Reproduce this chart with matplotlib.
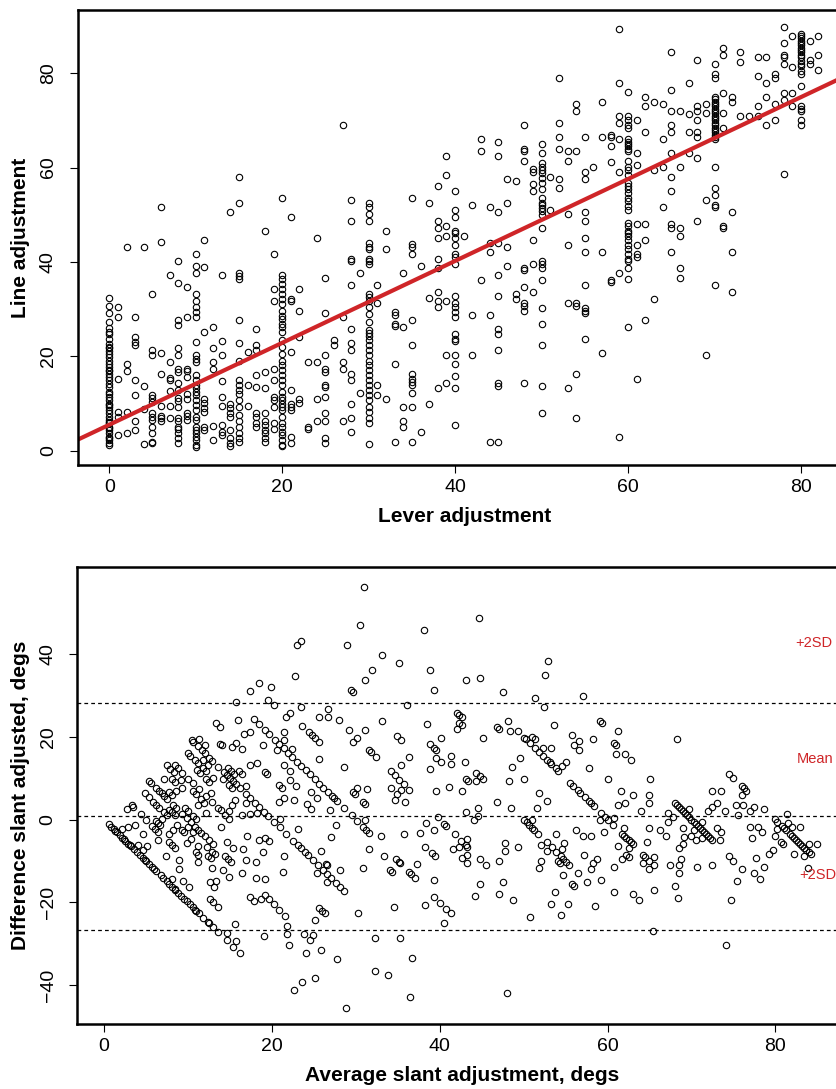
import numpy as np
import matplotlib.pyplot as plt

plt.rcParams['font.family'] = ['Liberation Sans', 'DejaVu Sans']

# lever setting (x) and the line adjustments recorded at each setting (y)
lever_levels = list(range(0, 83))
line_at_level = [
    [32.3, 30.7, 29.2, 27.2, 26.0, 25.1, 24.8, 23.7, 22.7, 22.0, 21.8, 21.2, 20.5, 19.8, 19.1, 18.4,
     17.7, 17.0, 16.8, 16.3, 15.6, 14.9, 14.1, 13.5, 12.5, 12.0, 11.4, 10.7, 10.0, 9.7, 9.3, 8.6,
     7.9, 7.2, 6.5, 6.1, 5.8, 5.1, 4.8, 4.4, 3.7, 3.0, 2.7, 2.3, 1.7, 1.2],   # 0
    [30.4, 28.3, 15.3, 8.3, 7.2, 3.3],
    [43.2, 18.3, 16.9, 8.3, 3.8],
    [28.3, 24.2, 23.0, 22.3, 14.9, 11.8, 6.4, 4.4],
    [43.2, 13.8, 8.9, 1.4],
    [33.2, 21.3, 20.2, 11.8, 11.1, 10.4, 7.9, 7.2, 6.5, 5.1, 3.7, 1.9, 1.6],   # 5
    [51.6, 44.2, 20.8, 16.3, 9.5, 7.3, 6.9, 6.4],
    [37.2, 18.8, 15.5, 14.9, 12.7, 9.5, 6.9],
    [40.2, 35.6, 27.8, 26.7, 21.8, 20.3, 17.4, 16.7, 14.4, 12.8, 11.1, 10.5, 9.3, 6.9, 6.2, 5.1,
     4.5, 3.7, 2.6, 1.7],
    [34.7, 28.3, 17.4, 16.8, 15.6, 12.1, 10.9, 7.9, 7.3, 6.6],
    [41.6, 39.2, 37.6, 33.2, 31.8, 30.4, 29.3, 28.3, 23.0, 20.2, 19.5, 18.8, 16.0, 14.9, 14.0, 13.2,
     12.5, 11.8, 10.7, 9.7, 8.6, 7.2, 6.5, 5.1, 4.4, 3.7, 3.0, 2.3, 1.2, 0.7],   # 10
    [44.6, 38.9, 25.2, 10.9, 10.2, 9.0, 8.3, 5.1, 4.4],
    [26.3, 21.8, 18.8, 17.4, 5.2, 2.3],
    [37.2, 23.2, 20.2, 14.8, 11.4, 9.5, 5.5, 4.0, 3.3],
    [50.6, 9.9, 9.0, 7.9, 7.2, 4.4, 2.6, 1.7, 0.9],
    [58.0, 52.6, 37.7, 37.0, 36.3, 27.7, 22.8, 19.1, 14.9, 13.9, 12.8, 12.1, 10.7, 9.3, 7.6, 6.2,
     5.1, 3.7, 2.6, 1.9],   # 15
    [20.9, 13.9, 9.5],
    [25.8, 22.3, 21.4, 16.0, 13.5, 7.9, 7.2, 5.8, 5.1],
    [46.6, 16.7, 13.2, 7.9, 6.2, 5.5, 4.4, 3.7, 2.6, 1.9],
    [41.6, 34.2, 31.8, 17.4, 14.9, 11.4, 10.7, 9.3, 5.8, 4.7],
    [53.5, 37.3, 36.3, 35.3, 34.2, 33.2, 32.1, 31.1, 29.7, 28.6, 27.9, 26.9, 26.2, 25.1, 23.4, 21.9,
     20.5, 19.1, 18.1, 17.0, 16.0, 14.9, 13.9, 12.5, 11.4, 10.7, 10.0, 9.3, 8.6, 7.2, 5.8, 5.1,
     4.0, 3.3, 2.3, 1.2, 0.9],   # 20
    [49.6, 32.1, 31.8, 20.9, 12.8, 10.0, 9.3, 8.6, 3.0, 1.6],
    [34.2, 29.7, 24.2, 10.9, 10.2],
    [18.8, 5.1, 4.7],
    [45.1, 18.8, 10.9, 6.4],
    [36.7, 29.2, 20.2, 17.4, 16.7, 13.9, 13.4, 11.4, 7.9, 6.4, 2.6, 1.6],   # 25
    [23.4, 22.3],
    [69.0, 28.4, 18.8, 17.4, 6.4],
    [53.1, 48.6, 40.6, 40.2, 35.1, 25.8, 22.8, 21.3, 16.3, 14.9, 9.9, 6.9, 3.9],
    [37.7, 12.3],
    [52.6, 51.6, 50.1, 48.6, 44.1, 43.2, 42.7, 40.6, 40.2, 39.6, 33.2, 32.5, 31.8, 30.4, 29.0, 27.2,
     25.5, 24.9, 24.4, 23.4, 22.3, 21.3, 20.2, 19.1, 18.1, 17.0, 16.0, 14.9, 13.9, 12.8, 11.8, 10.7,
     9.3, 8.3, 6.9, 5.8, 1.5],   # 30
    [35.1, 31.2, 13.9, 11.8],
    [46.6, 42.7, 10.9],
    [29.3, 28.8, 26.9, 26.4, 18.3, 1.9],
    [37.6, 26.3, 9.3, 6.4, 5.1],
    [53.5, 43.9, 43.2, 41.6, 27.7, 22.3, 16.3, 15.3, 14.6, 13.9, 12.3, 9.3, 1.9],   # 35
    [39.2, 3.9],
    [52.6, 32.3, 9.9],
    [56.1, 48.6, 47.2, 45.1, 40.6, 38.8, 33.7, 31.8, 30.4, 13.3],
    [62.5, 58.5, 47.6, 45.6, 31.8, 20.3, 14.3],
    [55.0, 51.1, 49.6, 46.6, 46.2, 45.1, 43.6, 41.6, 41.1, 39.5, 32.8, 31.4, 30.4, 29.3, 28.3, 24.8,
     23.7, 23.2, 20.3, 18.3, 15.9, 13.3, 5.4],   # 40
    [45.6],
    [52.1, 28.8, 20.3],
    [66.0, 63.5, 36.2],
    [51.6, 44.1, 42.2, 28.8, 1.9],
    [65.5, 62.5, 50.6, 44.1, 37.2, 32.7, 25.8, 24.8, 21.3, 14.3, 13.8, 1.9],   # 45
    [57.6, 52.6, 43.2, 39.2],
    [57.1, 33.2, 32.2],
    [69.0, 64.0, 63.5, 61.5, 38.8, 38.2, 34.7, 31.2, 30.7, 29.7, 14.3],
    [59.6, 59.1, 56.6, 55.1, 44.7, 39.6, 33.7],
    [65.0, 63.0, 60.9, 60.2, 59.5, 58.8, 57.8, 56.7, 55.5, 53.5, 52.5, 52.0, 51.4, 50.7, 50.0, 47.1,
     40.2, 39.5, 38.7, 36.1, 30.3, 26.9, 22.3, 13.8, 7.9],   # 50
    [58.1, 51.1],
    [78.9, 69.5, 66.5, 64.0, 57.6, 55.6],
    [63.5, 61.5, 50.1, 43.6, 31.2, 13.3],
    [73.5, 72.0, 63.5, 31.2, 30.7, 16.3, 6.9],
    [66.5, 59.1, 57.6, 50.6, 48.6, 45.1, 42.2, 35.2, 30.2, 29.7, 29.2, 23.7],   # 55
    [60.1],
    [74.0, 66.5, 42.2, 20.8],
    [67.0, 66.5, 64.5, 61.1, 36.2, 35.7],
    [89.3, 77.9, 71.0, 69.5, 66.0, 59.1, 37.7, 2.9],
    [76.0, 71.0, 70.0, 69.0, 68.5, 66.0, 65.5, 65.0, 64.5, 64.0, 63.5, 61.3, 60.2, 59.5, 58.5, 56.7,
     56.0, 55.5, 54.6, 53.5, 52.9, 51.8, 51.1, 48.3, 47.6, 46.5, 46.2, 45.5, 44.6, 43.7, 42.7, 41.6,
     40.6, 40.2, 38.7, 36.3, 26.3],   # 60
    [70.0, 63.0, 60.6, 48.1, 43.6, 41.6, 41.1, 15.3],
    [75.0, 73.0, 67.5, 48.1, 44.6, 27.7],
    [74.0, 59.5, 32.2],
    [73.5, 66.0, 60.1, 51.6],
    [84.4, 76.4, 72.0, 69.0, 67.5, 63.0, 58.1, 55.1, 48.1, 47.1, 42.2],   # 65
    [72.0, 60.1, 47.1, 45.6, 38.8, 36.7],
    [77.9, 71.3, 67.5, 63.0],
    [82.9, 73.0, 72.0, 70.0, 67.5, 66.5, 62.0, 48.6],
    [73.5, 71.5, 53.1, 20.3],
    [82.0, 79.9, 78.9, 75.0, 74.5, 74.0, 73.5, 73.0, 72.5, 72.0, 71.5, 71.0, 70.5, 70.0, 69.5, 69.0,
     68.5, 68.0, 67.5, 67.0, 66.5, 66.0, 60.1, 55.6, 54.1, 52.1, 51.6, 35.2],   # 70
    [85.4, 83.9, 75.9, 71.5, 68.5, 47.6, 47.1],
    [75.0, 74.0, 50.6, 42.2, 33.7],
    [84.4, 82.4, 71.0],
    [71.0],
    [83.4, 79.4, 73.0, 71.0],   # 75
    [83.4, 77.9, 75.0, 69.0],
    [79.9, 78.9, 73.5, 70.0],
    [89.8, 86.4, 83.9, 83.4, 81.9, 75.9, 74.4, 58.6],
    [87.9, 81.4, 75.9, 73.0],
    [88.4, 87.9, 87.4, 86.9, 86.4, 85.9, 85.4, 84.9, 84.4, 83.9, 83.4, 82.5, 82.0, 81.5, 80.5, 79.9,
     77.4, 73.0, 72.5, 72.0, 70.0, 69.0],   # 80
    [86.9, 82.9, 81.9],
    [87.9, 83.9, 80.7],
]

# fitted line and Bland-Altman limits
fit_intercept = 5.5
fit_slope = 0.868
upper_limit = 28.2
mean_diff = 0.87
lower_limit = -26.7

lever = []
line = []
for lv, ys in zip(lever_levels, line_at_level):
    lever += [lv] * len(ys)
    line += ys
lever = np.array(lever, dtype=float)
line = np.array(line, dtype=float)

# Bland-Altman: mean of the two methods vs their difference
avg = (lever + line) / 2
diff = lever - line

red = '#cf2528'
fig = plt.figure(figsize=(8.37, 10.89), dpi=100)


def r_style(ax):
    for s in ax.spines.values():
        s.set_linewidth(1.8)
    ax.tick_params(direction='out', length=6, width=0.8, labelsize=14, pad=4)
    ax.tick_params(axis='y', pad=9)
    for lab in ax.get_yticklabels():
        lab.set_rotation(90)
        lab.set_va('center')


# top panel
ax1 = fig.add_axes([0.0928, 0.5730, 0.9251, 0.4178])
ax1.plot(lever, line, 'o', mfc='none', mec='black', ms=4.6, mew=0.8)
ax1.axline((0, fit_intercept), slope=fit_slope, color=red, lw=3)
ax1.set_xlim(-3.65, 85.9)
ax1.set_ylim(-3.03, 93.4)
ax1.set_xticks([0, 20, 40, 60, 80])
ax1.set_yticks([0, 20, 40, 60, 80])
r_style(ax1)
ax1.set_xlabel('Lever adjustment', fontsize=15, fontweight='bold', labelpad=8)
ax1.set_ylabel('Line adjustment', fontsize=15, fontweight='bold', labelpad=7)

# bottom panel
ax2 = fig.add_axes([0.0924, 0.0597, 0.9192, 0.4194])
ax2.plot(avg, diff, 'o', mfc='none', mec='black', ms=4.6, mew=0.8)
for yv in (upper_limit, mean_diff, lower_limit):
    ax2.axhline(yv, color='black', lw=0.9, ls=(0, (3, 2.5)))
ax2.text(82.4, 42.6, '+2SD', color=red, fontsize=10.5, va='center', ha='left')
ax2.text(82.6, 14.6, 'Mean', color=red, fontsize=10.5, va='center', ha='left')
ax2.text(82.8, -13.4, '+2SD', color=red, fontsize=10.5, va='center', ha='left')
ax2.set_xlim(-3.18, 88.5)
ax2.set_ylim(-49.4, 60.95)
ax2.set_xticks([0, 20, 40, 60, 80])
ax2.set_yticks([-40, -20, 0, 20, 40])
r_style(ax2)
ax2.set_xlabel('Average slant adjustment, degs', fontsize=15, fontweight='bold', labelpad=8)
ax2.set_ylabel('Difference slant adjusted, degs', fontsize=15, fontweight='bold', labelpad=7)

fig.savefig('out.png', dpi=100)
